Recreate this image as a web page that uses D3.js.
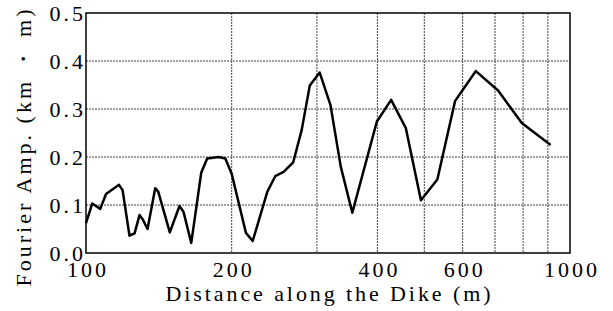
<!DOCTYPE html>
<html>
<head>
<meta charset="utf-8">
<script src="https://cdn.jsdelivr.net/npm/d3@7"></script>
</head>
<body style="margin:0">
<script>
// data
var distance = [100, 103, 107, 110, 117, 119, 123, 126, 129, 131, 134, 139, 141, 149, 156, 159, 165,
                173, 178, 188, 194, 200, 214, 221, 237, 246, 256, 268, 279, 290, 304, 320, 336, 355,
                399, 427, 458, 492, 532, 579, 639, 711, 795, 912];
var amp = [0.062, 0.103, 0.092, 0.123, 0.142, 0.131, 0.036, 0.041, 0.079, 0.070, 0.050, 0.135, 0.128,
           0.043, 0.098, 0.086, 0.021, 0.167, 0.197, 0.200, 0.197, 0.165, 0.042, 0.025, 0.128, 0.160,
           0.169, 0.189, 0.256, 0.349, 0.376, 0.308, 0.180, 0.084, 0.274, 0.319, 0.260, 0.110, 0.153,
           0.317, 0.379, 0.338, 0.271, 0.225];

var xTicks = [100, 200, 400, 600, 1000];
var xGrid = [200, 300, 400, 500, 600, 700, 800, 900];
var yTicks = [0, 0.1, 0.2, 0.3, 0.4, 0.5];
var yGrid = [0.1, 0.2, 0.3, 0.4];

// drawing params
const width = 613,
    height = 311,
    pLeft = 86, pRight = 570,
    pTop = 13, pBottom = 253;

var svg = d3.select("body").append("svg")
    .attr("width", width)
    .attr("height", height)
    .style("display", "block");

var x = d3.scaleLog().domain([100, 1000]).range([pLeft, pRight]);
var y = d3.scaleLinear().domain([0, 0.5]).range([pBottom, pTop]);

// serif label helper: spaced-out letters like the original print
function label(sel, gap, len) {
    sel.style("font-family", "'Liberation Serif'")
        .style("font-size", "22px")
        .attr("fill", "#000");
    sel.each(function() {
        var w = len || this.getComputedTextLength() + (this.textContent.length - 1) * gap;
        d3.select(this)
            .attr("textLength", w)
            .attr("lengthAdjust", "spacing");
    });
}

// grid
svg.append("g").selectAll("line")
    .data(xGrid)
    .enter().append("line")
    .attr("x1", d => x(d)).attr("x2", d => x(d))
    .attr("y1", pTop).attr("y2", pBottom)
    .attr("stroke", "#444")
    .attr("stroke-width", 1)
    .attr("stroke-dasharray", "2,1");

svg.append("g").selectAll("line")
    .data(yGrid)
    .enter().append("line")
    .attr("x1", pLeft).attr("x2", pRight)
    .attr("y1", d => y(d)).attr("y2", d => y(d))
    .attr("stroke", "#444")
    .attr("stroke-width", 1)
    .attr("stroke-dasharray", "2,1");

// frame
svg.append("rect")
    .attr("x", pLeft).attr("y", pTop)
    .attr("width", pRight - pLeft).attr("height", pBottom - pTop)
    .attr("fill", "none")
    .attr("stroke", "#000")
    .attr("stroke-width", 1.5);

// axes (labels only)
var xAxis = svg.append("g")
    .attr("transform", "translate(0," + pBottom + ")")
    .call(d3.axisBottom(x).tickValues(xTicks).tickSize(0).tickPadding(8).tickFormat(d3.format("d")));
xAxis.select(".domain").remove();

var yAxis = svg.append("g")
    .attr("transform", "translate(" + pLeft + ",0)")
    .call(d3.axisLeft(y).tickValues(yTicks).tickSize(0).tickPadding(3).tickFormat(d3.format(".1f")));
yAxis.select(".domain").remove();

xAxis.attr("font-family", null).attr("font-size", null);
yAxis.attr("font-family", null).attr("font-size", null);
label(svg.selectAll(".tick text"), 3);

// series line
var line = d3.line()
    .x((d, i) => x(distance[i]))
    .y(d => y(d));

svg.append("path")
    .datum(amp)
    .attr("d", line)
    .attr("fill", "none")
    .attr("stroke", "#000")
    .attr("stroke-width", 2.5)
    .attr("stroke-linejoin", "round");

// axis titles
var xTitle = svg.append("text")
    .attr("x", (pLeft + pRight) / 2)
    .attr("y", 301)
    .attr("text-anchor", "middle")
    .text("Distance along the Dike (m)");
label(xTitle, 0, 325);

var yTitle = svg.append("text")
    .attr("transform", "translate(31,148) rotate(-90)")
    .attr("text-anchor", "middle")
    .text("Fourier Amp. (km \u30FB m)");
label(yTitle, 0, 277);
</script>
</body>
</html>
